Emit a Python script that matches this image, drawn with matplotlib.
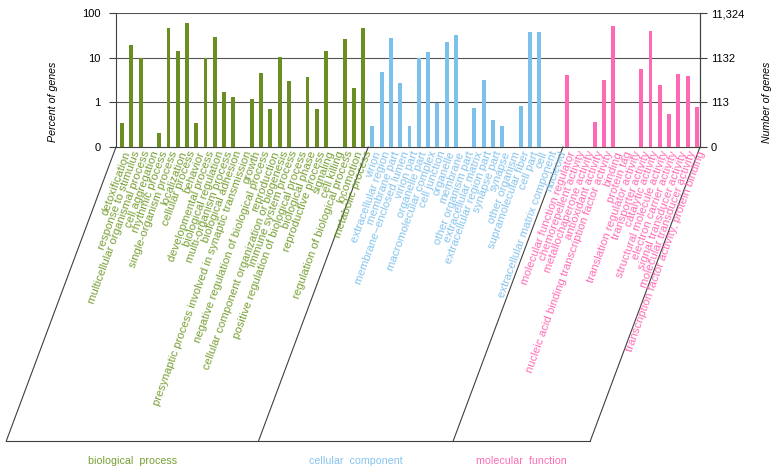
import numpy as np
import matplotlib
matplotlib.use('Agg')
import matplotlib.pyplot as plt
import matplotlib.transforms as mtransforms

plt.rcParams['font.family'] = ['Liberation Sans', 'DejaVu Sans']

# GO terms and percent of genes, per category
bp_terms = ['detoxification', 'response to stimulus', 'multicellular organismal process',
            'cell aggregation', 'rhythmic process', 'single-organism process', 'localization',
            'cellular process', 'behavior', 'developmental process', 'biological regulation',
            'multi-organism process', 'biological adhesion',
            'presynaptic process involved in synaptic transmission', 'growth',
            'negative regulation of biological process', 'reproduction',
            'cellular component organization or biogenesis', 'immune system process',
            'positive regulation of biological process', 'biological phase',
            'reproductive process', 'signaling', 'cell killing',
            'regulation of biological process', 'locomotion', 'metabolic process']
bp_vals = [0.34, 19.5, 10, 0, 0.21, 47, 14.1, 59, 0.35, 10, 28.5, 1.7, 1.34, 0, 1.19,
           4.5, 0.71, 10.3, 2.97, 0, 3.66, 0.71, 14.3, 0, 26.2, 2.1, 46.4]

cc_terms = ['virion', 'extracellular region', 'membrane part', 'membrane\u2212enclosed lumen',
            'virion part', 'organelle part', 'macromolecular complex', 'cell junction',
            'organelle', 'membrane', 'other organism part', 'extracellular matrix',
            'extracellular region part', 'synapse part', 'synapse', 'other organism',
            'supramolecular fiber', 'cell part', 'cell', 'extracellular matrix component',
            'nucleoid']
cc_vals = [0.30, 4.8, 27.6, 2.76, 0.30, 10, 13.1, 0.95, 22.8, 32.3, 0, 0.73, 3.13, 0.41,
           0.30, 0, 0.83, 37.7, 37.7, 0, 0]

mf_terms = ['molecular function regulator', 'chemorepellent activity',
            'metallochaperone activity', 'antioxidant activity',
            'nucleic acid binding transcription factor activity', 'binding', 'protein tag',
            'translation regulator activity', 'transporter activity', 'catalytic activity',
            'structural molecule activity', 'electron carrier activity',
            'signal transducer activity', 'molecular transducer activity',
            'transcription factor activity, protein binding']
mf_vals = [4.1, 0, 0, 0.37, 3.2, 52, 0, 0, 5.6, 39, 2.5, 0.55, 4.3, 3.9, 0.77]

group_names = ['biological  process', 'cellular  component', 'molecular  function']
group_colors = ['#6B8E23', '#7CC0EC', '#FF69B4']
text_colors = ['#77A033', '#86C4EE', '#FF6DB6']

left_ticks = [0.1, 1, 10, 100]
left_labels = ['0', '1', '10', '100']
right_labels = ['0', '113', '1132', '11,324']

groups = [(bp_terms, bp_vals), (cc_terms, cc_vals), (mf_terms, mf_vals)]
n_total = sum(len(t) for t, v in groups)

fig = plt.figure(figsize=(7.77, 4.74), dpi=100)
ax = fig.add_axes([116 / 777, 1 - 147 / 474, 584 / 777, 134 / 474])

ax.set_yscale('log')
ax.set_ylim(0.1, 100)
ax.set_xlim(-0.66, n_total - 0.66)

trans = mtransforms.blended_transform_factory(ax.transData, ax.transAxes)
slant = 108 / 9.125      # horizontal shift of the slanted lines, in bar units
bottom_y = -294 / 134    # baseline of the label box, in axes units

start = 0
edges = [-0.66]
for (terms, vals), col, tcol in zip(groups, group_colors, text_colors):
    x = np.arange(start, start + len(terms))
    v = np.array(vals, dtype=float)
    h = np.where(v > 0.1, v - 0.1, 0)
    ax.bar(x, h, bottom=0.1, width=0.42, color=col, zorder=3)
    for xi, t in zip(x, terms):
        ax.text(xi + 0.1, -0.02, t, transform=trans, rotation=70, rotation_mode='anchor',
                ha='right', va='top', fontsize=8.2, color=tcol)
    start += len(terms)
    edges.append(start - 0.45)
edges[-1] = n_total - 0.66

# parallelogram under the axis
for e in edges:
    ax.plot([e, e - slant], [0, bottom_y], transform=trans, color='#404040', lw=0.8,
            clip_on=False)
ax.plot([edges[0] - slant, edges[-1] - slant], [bottom_y, bottom_y], transform=trans,
        color='#404040', lw=0.8, clip_on=False)

for i, (name, col) in enumerate(zip(group_names, text_colors)):
    mid = (edges[i] + edges[i + 1]) / 2 - slant
    ax.text(mid, bottom_y - 0.11, name, transform=trans, ha='center', va='top',
            fontsize=7.7, color=col)

# axes, grid and ticks
ax.set_yticks(left_ticks)
ax.set_yticklabels(left_labels)
ax.minorticks_off()
ax.set_xticks([])
for y in left_ticks[1:]:
    ax.axhline(y, color='#555555', lw=0.8, zorder=1)
ax.spines['top'].set_visible(False)
for s in ['left', 'right', 'bottom']:
    ax.spines[s].set_color('#404040')
    ax.spines[s].set_linewidth(0.8)
ax.tick_params(axis='y', length=5, width=0.8, color='#404040', pad=6, labelsize=8)
ax.set_ylabel('Percent of genes', fontsize=7.7, style='italic')
ax.yaxis.set_label_coords(-58 / 584, 45 / 134)

ax2 = ax.twinx()
ax2.set_yscale('log')
ax2.set_ylim(0.1, 100)
ax2.set_yticks(left_ticks)
ax2.set_yticklabels(right_labels)
ax2.minorticks_off()
for s in ['top', 'left', 'bottom']:
    ax2.spines[s].set_visible(False)
ax2.spines['right'].set_color('#404040')
ax2.spines['right'].set_linewidth(0.8)
ax2.tick_params(axis='y', length=5, width=0.8, color='#404040', pad=3, labelsize=8)
ax2.set_ylabel('Number of genes', fontsize=7.7, style='italic')
ax2.yaxis.set_label_coords(1 + 62 / 584, 45 / 134)

fig.savefig('out.png', dpi=100)
